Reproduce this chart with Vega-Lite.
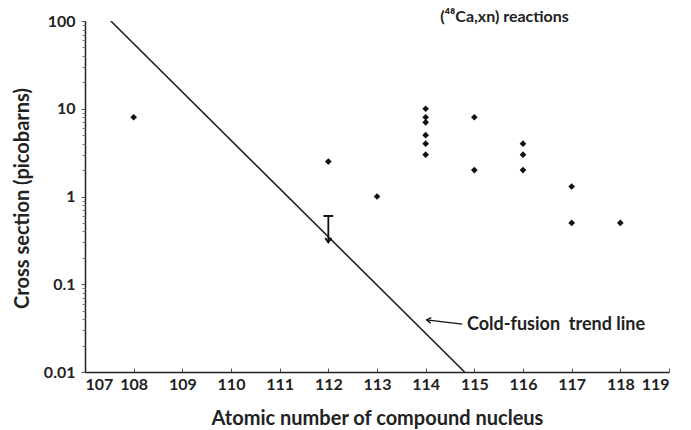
{
  "$schema": "https://vega.github.io/schema/vega-lite/v6.json",
  "autosize": "none",
  "width": 584,
  "height": 351,
  "padding": {"left": 85, "top": 21, "right": 22, "bottom": 58},
  "background": "white",
  "config": {
    "font": "Lato",
    "view": {"stroke": null},
    "axis": {"grid": false, "domainColor": "#222", "domainWidth": 1.5, "tickColor": "#555", "labelFont": "Lato", "labelFontWeight": "bold", "labelFontSize": 16, "labelColor": "#222", "titleFont": "Lato", "titleFontWeight": "bold", "titleFontSize": 20, "titleColor": "#222"}
  },
  "resolve": {"axis": {"y": "independent"}},
  "datasets": {
    "pts": [
      {"Z": 108, "sigma": 8},
      {"Z": 112, "sigma": 2.5},
      {"Z": 113, "sigma": 1},
      {"Z": 114, "sigma": 10},
      {"Z": 114, "sigma": 8},
      {"Z": 114, "sigma": 7},
      {"Z": 114, "sigma": 5},
      {"Z": 114, "sigma": 4},
      {"Z": 114, "sigma": 3},
      {"Z": 115, "sigma": 8},
      {"Z": 115, "sigma": 2},
      {"Z": 116, "sigma": 4},
      {"Z": 116, "sigma": 3},
      {"Z": 116, "sigma": 2},
      {"Z": 117, "sigma": 1.3},
      {"Z": 117, "sigma": 0.5},
      {"Z": 118, "sigma": 0.5}
    ],
    "trend": [
      {"Z": 107.53, "sigma": 100},
      {"Z": 114.8, "sigma": 0.01}
    ]
  },
  "layer": [
    {
      "data": {"name": "trend"},
      "mark": {"type": "line", "color": "#222", "strokeWidth": 1.6, "clip": true},
      "encoding": {
        "x": {"field": "Z", "type": "quantitative", "scale": {"domain": [107, 119], "nice": false, "zero": false},
              "axis": {"values": [107,108,109,110,111,112,113,114,115,116,117,118,119], "tickSize": -4, "labelPadding": 8, "title": "Atomic number of compound nucleus", "titleY": 46, "titleBaseline": "middle"}},
        "y": {"field": "sigma", "type": "quantitative", "scale": {"type": "log", "domain": [0.01, 100], "nice": false},
              "axis": {"values": [0.01, 0.1, 1, 10, 100], "format": "~g", "tickSize": 4, "labelPadding": 6, "title": "Cross section (picobarns)", "titleX": -63, "titleY": 177, "titleAlign": "center", "titleBaseline": "middle", "titleAngle": -90}}
      }
    },
    {
      "data": {"name": "pts"},
      "mark": {"type": "point", "shape": "diamond", "filled": true, "color": "#111", "size": 45, "opacity": 1},
      "encoding": {
        "x": {"field": "Z", "type": "quantitative"},
        "y": {"field": "sigma", "type": "quantitative",
              "axis": {"orient": "left", "values": [0.02,0.03,0.04,0.05,0.06,0.07,0.08,0.09,0.2,0.3,0.4,0.5,0.6,0.7,0.8,0.9,2,3,4,5,6,7,8,9,20,30,40,50,60,70,80,90], "labels": false, "domain": false, "tickSize": 3, "tickColor": "#777", "title": null}}
      }
    },
    {
      "data": {"values": [{"Z": 112, "top": 0.6, "bot": 0.3}]},
      "mark": {"type": "rule", "color": "#111", "strokeWidth": 1.8},
      "encoding": {
        "x": {"field": "Z", "type": "quantitative"},
        "y": {"field": "top", "type": "quantitative", "axis": null},
        "y2": {"field": "bot"}
      }
    },
    {
      "data": {"values": [{"Z": 111.9, "Z2": 112.1, "sigma": 0.6}]},
      "mark": {"type": "rule", "color": "#111", "strokeWidth": 2},
      "encoding": {
        "x": {"field": "Z", "type": "quantitative"},
        "x2": {"field": "Z2"},
        "y": {"field": "sigma", "type": "quantitative", "axis": null}
      }
    },
    {
      "data": {"values": [{"Z": 112, "sigma": 0.3}]},
      "mark": {"type": "point", "shape": "M-1,-1.4L0,0L1,-1.4", "filled": false, "color": "#111", "strokeWidth": 1.8, "size": 40, "opacity": 1},
      "encoding": {
        "x": {"field": "Z", "type": "quantitative"},
        "y": {"field": "sigma", "type": "quantitative", "axis": null}
      }
    },
    {
      "data": {"values": [{"Z": 114.75, "sigma": 0.0352, "Zt": 114.02, "sigmat": 0.0392}]},
      "mark": {"type": "rule", "color": "#111", "strokeWidth": 1.3},
      "encoding": {
        "x": {"field": "Z", "type": "quantitative"},
        "y": {"field": "sigma", "type": "quantitative", "axis": null},
        "x2": {"field": "Zt"},
        "y2": {"field": "sigmat"}
      }
    },
    {
      "data": {"values": [{"Z": 114.02, "sigma": 0.0392}]},
      "mark": {"type": "point", "shape": "M1.6,-1L0,0L1.6,1", "filled": false, "color": "#111", "strokeWidth": 1.3, "size": 30, "angle": 6, "opacity": 1},
      "encoding": {
        "x": {"field": "Z", "type": "quantitative"},
        "y": {"field": "sigma", "type": "quantitative", "axis": null}
      }
    },
    {
      "data": {"values": [{"Z": 114.85, "sigma": 0.034, "label": "Cold-fusion\u00a0 trend line"}]},
      "mark": {"type": "text", "align": "left", "baseline": "middle", "font": "Lato", "fontWeight": "bold", "fontSize": 18, "color": "#222"},
      "encoding": {
        "x": {"field": "Z", "type": "quantitative"},
        "y": {"field": "sigma", "type": "quantitative", "axis": null},
        "text": {"field": "label"}
      }
    },
    {
      "data": {"values": [{"Z": 114.3, "sigma": 111, "label": "(⁴⁸Ca,xn) reactions"}]},
      "mark": {"type": "text", "align": "left", "baseline": "middle", "font": "Lato", "fontWeight": "bold", "fontSize": 16, "color": "#222", "clip": false},
      "encoding": {
        "x": {"field": "Z", "type": "quantitative"},
        "y": {"field": "sigma", "type": "quantitative", "axis": null},
        "text": {"field": "label"}
      }
    }
  ]
}
